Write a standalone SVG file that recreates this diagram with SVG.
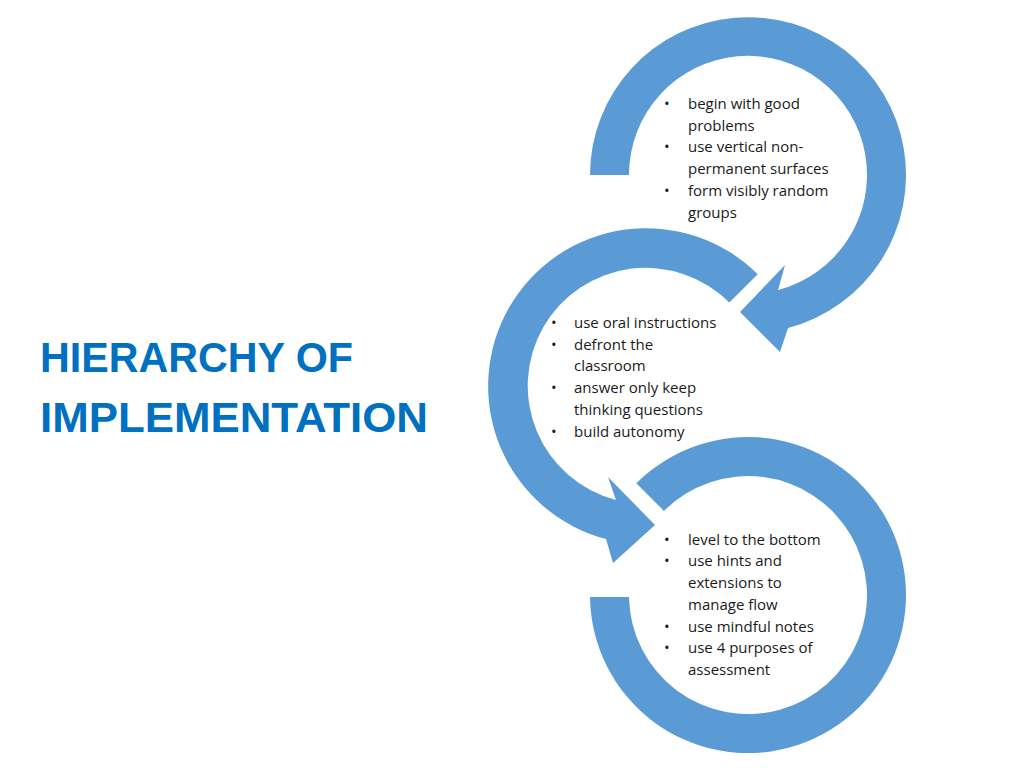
<svg xmlns="http://www.w3.org/2000/svg" width="1024" height="768" viewBox="0 0 1024 768">
<style>
.arr{fill:#5b9bd5}
.t{font-family:"Open Sans","Liberation Sans",sans-serif;font-size:15px;fill:#1a1a1a}
.h{font-family:"Liberation Sans",sans-serif;font-weight:bold;font-size:42px;fill:#0070c0}
</style>
<rect width="1024" height="768" fill="#fff"/>
<g id="title"><text class="h" x="40" y="372" textLength="313" lengthAdjust="spacingAndGlyphs">HIERARCHY OF</text><text class="h" x="40" y="432" textLength="388" lengthAdjust="spacingAndGlyphs">IMPLEMENTATION</text></g>
<g id="connectors">
<path class="arr" d="M590,175 A158 158 0 1 1 788,328 L780,352 L740,312 L785,265 L778,290 A119 119 0 1 0 629,175 Z"/>
<path class="arr" d="M757.7,274.3 A158 158 0 1 0 606,539 L613,563 L655,525 L608,477 L616,500 A118 118 0 1 1 729.4,302.6 Z"/>
<path class="arr" d="M636.3,483.3 A158 158 0 1 1 590,597 L629,597 A119 119 0 1 0 663.9,510.9 Z"/>
</g>
<g id="node1" class="t">
<text x="664" y="109">•</text><text x="688" y="109">begin with good</text><text x="688" y="131">problems</text>
<text x="664" y="152">•</text><text x="688" y="152">use vertical non-</text><text x="688" y="174">permanent surfaces</text>
<text x="664" y="196">•</text><text x="688" y="196">form visibly random</text><text x="688" y="218">groups</text>
</g>
<g id="node2" class="t">
<text x="551" y="328">•</text><text x="574" y="328">use oral instructions</text>
<text x="551" y="350">•</text><text x="574" y="350">defront the</text><text x="574" y="371">classroom</text>
<text x="551" y="393">•</text><text x="574" y="393">answer only keep</text><text x="574" y="415">thinking questions</text>
<text x="551" y="437">•</text><text x="574" y="437">build autonomy</text>
</g>
<g id="node3" class="t">
<text x="664" y="545">•</text><text x="688" y="545">level to the bottom</text>
<text x="664" y="566">•</text><text x="688" y="566">use hints and</text><text x="688" y="588">extensions to</text><text x="688" y="610">manage flow</text>
<text x="664" y="632">•</text><text x="688" y="632">use mindful notes</text>
<text x="664" y="653">•</text><text x="688" y="653">use 4 purposes of</text><text x="688" y="675">assessment</text>
</g>
</svg>
